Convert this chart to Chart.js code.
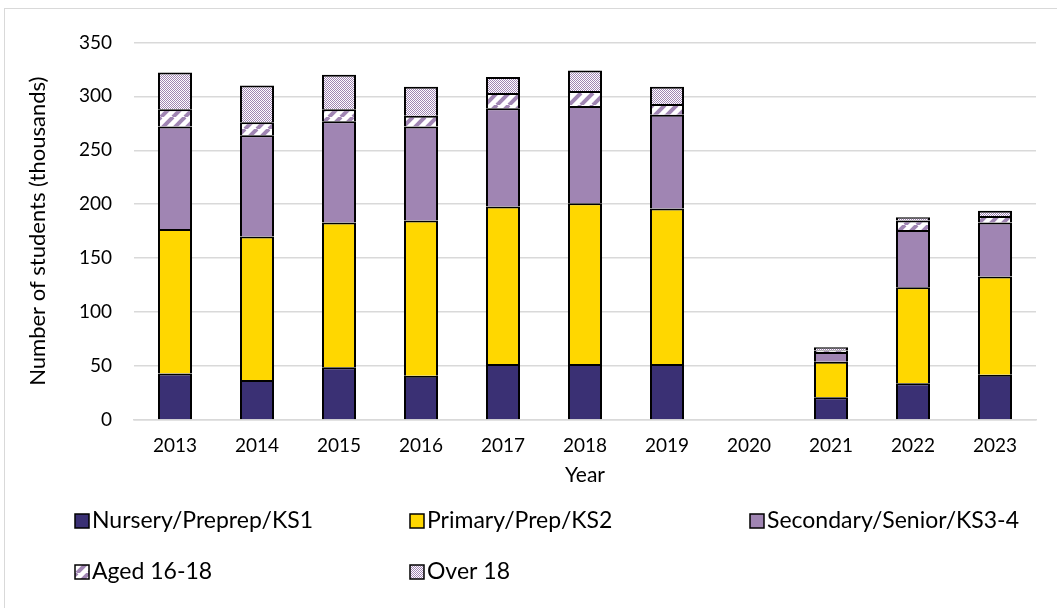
<!DOCTYPE html>
<html>
<head>
<meta charset="utf-8">
<script src="https://cdn.jsdelivr.net/npm/chart.js"></script>
<style>
body { margin: 0; background: #fff; }
#frame { position: absolute; left: 4px; top: 8px; width: 1053px; height: 600px;
  border-left: 1px solid #d9d9d9; border-top: 1px solid #d9d9d9; }
</style>
</head>
<body>
<div id="frame"><canvas id="myChart" width="1052" height="599"></canvas></div>
<script>
const years = ['2013','2014','2015','2016','2017','2018','2019','2020','2021','2022','2023'];
const nursery   = [43, 37, 49, 41, 52, 52, 52, null, 21, 34, 42];
const primary   = [134, 133, 134, 144, 146, 149, 144, null, 33, 89, 91];
const secondary = [95, 94, 94, 87, 91, 90, 87, null, 9, 53, 50];
const aged1618  = [16, 12, 11, 10, 14, 14, 10, null, 1.5, 9, 6];
const over18    = [34, 34, 32, 27, 15, 19, 16, null, 3, 3, 5];
const yTicks = [0, 50, 100, 150, 200, 250, 300, 350];

const purple = '#a085b3';

function stripes() {
  const c = document.createElement('canvas');
  c.width = 12; c.height = 12;
  const g = c.getContext('2d');
  g.fillStyle = '#fff'; g.fillRect(0, 0, 12, 12);
  g.strokeStyle = purple; g.lineWidth = 4;
  for (let k = -12; k <= 24; k += 12) {
    g.beginPath(); g.moveTo(k, 12); g.lineTo(k + 12, 0); g.stroke();
  }
  return g.createPattern(c, 'repeat');
}

function checks() {
  const c = document.createElement('canvas');
  c.width = 2; c.height = 2;
  const g = c.getContext('2d');
  g.fillStyle = '#fff'; g.fillRect(0, 0, 2, 2);
  g.fillStyle = purple; g.fillRect(0, 0, 1, 1); g.fillRect(1, 1, 1, 1);
  return g.createPattern(c, 'repeat');
}

const font = 'Lato';

// legend laid out in fixed columns like the original
const gridLegend = {
  id: 'gridLegend',
  afterDraw(chart) {
    const ctx = chart.ctx;
    const cols = [70, 405, 745];
    const rows = [512, 563];
    ctx.save();
    ctx.font = '23px ' + font;
    ctx.textBaseline = 'middle';
    chart.data.datasets.forEach((ds, i) => {
      const x = cols[i % 3], y = rows[Math.floor(i / 3)];
      ctx.fillStyle = ds.backgroundColor;
      ctx.fillRect(x, y - 7, 14, 14);
      ctx.strokeStyle = '#000'; ctx.lineWidth = 1.5;
      ctx.strokeRect(x, y - 7, 14, 14);
      ctx.fillStyle = '#000';
      ctx.fillText(ds.label, x + 17, y);
    });
    ctx.restore();
  }
};

new Chart('myChart', {
  type: 'bar',
  data: {
    labels: years,
    datasets: [
      { label: 'Nursery/Preprep/KS1', data: nursery, backgroundColor: '#3a3074' },
      { label: 'Primary/Prep/KS2', data: primary, backgroundColor: '#ffd700' },
      { label: 'Secondary/Senior/KS3-4', data: secondary, backgroundColor: purple },
      { label: 'Aged 16-18', data: aged1618, backgroundColor: stripes() },
      { label: 'Over 18', data: over18, backgroundColor: checks() }
    ].map(d => Object.assign(d, {
      borderColor: '#000', borderWidth: 2, borderSkipped: 'start',
      barPercentage: 0.415, categoryPercentage: 1
    }))
  },
  options: {
    responsive: false,
    animation: false,
    layout: { padding: { top: 29, right: 21, bottom: 120, left: 0 } },
    plugins: { legend: { display: false }, tooltip: { enabled: false } },
    scales: {
      x: {
        stacked: true,
        grid: { display: false },
        border: { color: '#d9d9d9', width: 1.5 },
        ticks: { color: '#000', font: { family: font, size: 19 }, padding: 6, maxRotation: 0 },
        title: { display: true, text: 'Year', color: '#000', font: { family: font, size: 21 }, padding: { top: 0, bottom: 0 } },
        afterFit: s => { s.height = 68; }
      },
      y: {
        stacked: true,
        min: 0, max: 350,
        afterBuildTicks: s => { s.ticks = yTicks.map(v => ({ value: v })); },
        grid: { color: '#d9d9d9', lineWidth: 1.5, drawTicks: false },
        border: { display: false },
        ticks: { color: '#000', font: { family: font, size: 19 }, padding: 22 },
        title: { display: true, text: 'Number of students (thousands)', color: '#000', font: { family: font, size: 22 }, padding: { top: 20, bottom: 0 } },
        afterFit: s => { s.width = 129; }
      }
    }
  },
  plugins: [gridLegend]
});
</script>
</body>
</html>
